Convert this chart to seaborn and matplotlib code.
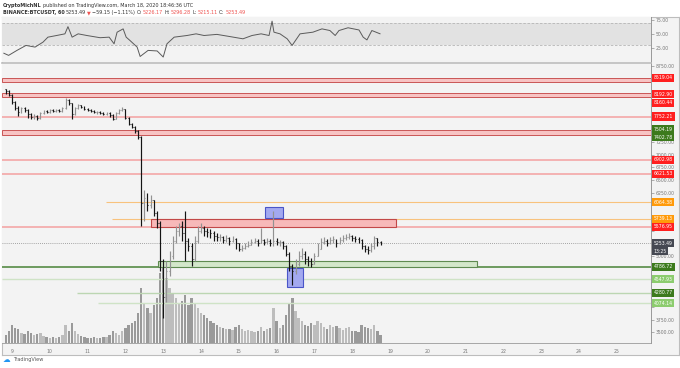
import numpy as np
import pandas as pd
import seaborn as sns
import matplotlib.pyplot as plt
import matplotlib.transforms as mtransforms
from matplotlib.patches import Rectangle

# ---- 2-hour bars, BINANCE:BTCUSDT, Mar 8 20:00 -> Mar 18 18:00 ----
close = [8257, 8178, 8040, 7922, 7843, 7922, 7882, 7803, 7744, 7764,
         7724, 7823, 7863, 7843, 7882, 7863, 7882, 7863, 7922, 8080,
         8020, 7803, 7922, 7981, 7942, 7902, 7882, 7863, 7843, 7843,
         7823, 7803, 7823, 7784, 7705, 7823, 7882, 7902, 7724, 7606,
         7547, 7468, 7350,
         6050, 6150, 6000, 6100, 5850, 5650, 4900, 4200, 4700, 5000,
         5300, 5500, 5600, 5450, 5300, 5200, 4950, 5300, 5500, 5550,
         5500, 5480, 5450, 5400, 5380, 5380, 5320, 5350, 5300, 5330,
         5250, 5150, 5170, 5200, 5230, 5280, 5300, 5260, 5320, 5280,
         5300, 5250, 5300, 5270, 5280, 5200, 5050, 4800, 4700, 4850,
         5000, 5050, 4950, 4900, 4850, 5000, 5150, 5280, 5300, 5250,
         5320, 5330, 5250, 5320, 5350, 5380, 5400, 5360, 5340, 5320,
         5200, 5150, 5120, 5200, 5350, 5280, 5253.49]
high = [8300, 8270, 8190, 8060, 7960, 7950, 7940, 7900, 7830, 7800,
        7790, 7850, 7890, 7880, 7900, 7900, 7910, 7900, 7950, 8110,
        8090, 8030, 7950, 8000, 7990, 7960, 7920, 7900, 7880, 7870,
        7860, 7840, 7850, 7840, 7800, 7840, 7900, 7950, 7910, 7740,
        7630, 7560, 7480,
        7360, 6300, 6250, 6200, 6100, 5900, 5700, 4950, 4900, 5100,
        5400, 5600, 5650, 5700, 5900, 5350, 5250, 5400, 5600, 5650,
        5600, 5550, 5530, 5500, 5450, 5440, 5400, 5420, 5380, 5400,
        5350, 5260, 5230, 5260, 5300, 5330, 5360, 5330, 5560, 5340,
        5360, 5330, 5900, 5350, 5320, 5300, 5220, 5080, 4850, 4950,
        5100, 5160, 5100, 5000, 4960, 5060, 5250, 5350, 5380, 5330,
        5380, 5400, 5340, 5380, 5420, 5440, 5460, 5420, 5400, 5380,
        5340, 5230, 5200, 5260, 5400, 5360, 5296.28]
low = [8200, 8150, 8010, 7880, 7760, 7820, 7850, 7720, 7700, 7710,
       7680, 7710, 7810, 7820, 7830, 7840, 7850, 7840, 7850, 7910,
       7990, 7700, 7790, 7900, 7920, 7880, 7860, 7840, 7820, 7810,
       7800, 7780, 7790, 7750, 7680, 7700, 7810, 7870, 7700, 7580,
       7520, 7430, 7320,
       5600, 5700, 5900, 5950, 5800, 5550, 4700, 3782, 4100, 4600,
       4950, 5250, 5400, 5300, 4900, 5100, 4800, 4900, 5250, 5450,
       5400, 5380, 5350, 5300, 5300, 5300, 5250, 5280, 5230, 5270,
       5150, 5100, 5110, 5150, 5180, 5220, 5250, 5200, 5260, 5230,
       5240, 5200, 5200, 5220, 5200, 5150, 5000, 4700, 4440, 4650,
       4800, 4950, 4850, 4800, 4780, 4850, 5000, 5150, 5240, 5200,
       5240, 5260, 5180, 5240, 5280, 5320, 5340, 5300, 5280, 5260,
       5150, 5080, 5050, 5080, 5150, 5200, 5215.11]
volume = [8000, 12000, 18000, 15000, 14000, 10000, 9000, 12000, 10000, 8000,
          9000, 10000, 7000, 6000, 5000, 6000, 5000, 6000, 8000, 18000,
          12000, 20000, 12000, 9000, 7000, 6000, 5000, 5000, 6000, 5000,
          5000, 6000, 6000, 8000, 12000, 10000, 8000, 12000, 15000, 18000,
          20000, 22000, 30000,
          55000, 40000, 35000, 30000, 38000, 45000, 70000, 80000, 65000, 55000,
          50000, 45000, 40000, 42000, 48000, 38000, 45000, 40000, 35000, 30000,
          28000, 25000, 22000, 20000, 18000, 16000, 15000, 14000, 14000, 13000,
          16000, 18000, 14000, 12000, 13000, 12000, 11000, 12000, 16000, 12000,
          14000, 15000, 35000, 22000, 15000, 18000, 28000, 40000, 45000, 32000,
          25000, 22000, 18000, 17000, 20000, 18000, 22000, 20000, 16000, 14000,
          18000, 16000, 17000, 15000, 13000, 15000, 16000, 12000, 12000, 11000,
          18000, 16000, 15000, 14000, 18000, 12000, 8000]
first_open = 8290

# RSI(14) (time in days of March)
rsi_day = [8.78, 8.91, 9.13, 9.37, 9.61, 9.82, 9.95, 10.18, 10.40, 10.48,
           10.59, 10.75, 10.98, 11.33, 11.57, 11.70, 11.78, 11.94, 12.02, 12.12,
           12.31, 12.39, 12.60, 12.84, 13.00, 13.10, 13.29, 13.63, 13.87, 14.08,
           14.42, 14.77, 15.11, 15.35, 15.59, 15.80, 15.88, 15.93, 16.09, 16.28,
           16.41, 16.62, 16.96, 17.20, 17.41, 17.55, 17.65, 17.89, 18.18, 18.29,
           18.39, 18.52, 18.63, 18.74]
rsi_val = [15, 11, 20, 29, 26, 35, 44, 47, 50, 63,
           44, 50, 47, 43, 44, 32, 53, 59, 44, 38,
           26, 9, 20, 19, 8, 32, 44, 47, 50, 47,
           49, 45, 41, 47, 50, 47, 73, 53, 50, 41,
           29, 50, 53, 59, 56, 47, 56, 61, 57, 44,
           39, 56, 53, 50]

# drawn levels
zone_lo = [8440, 8145, 7395]
zone_hi = [8519.04, 8225, 7485]
red_lines = [7752.21, 6902.98, 6621.53, 5576.95]
orange_lines = [6064.38, 5739.13]
orange_from = [11.49, 11.65]
green_lines = [4786.72, 4547.93, 4280.77, 4074.14]
green_from = [8.735, 8.735, 10.72, 11.275]
last_price = 5253.49

# rectangles: (day0, day1, price0, price1)
red_box = (12.68, 19.16, 5576.95, 5739.13)
green_box = (12.86, 21.30, 4786.72, 4905)
blue_boxes = [(15.69, 16.17, 5753, 5969), (16.28, 16.70, 4392, 4767)]

# price scale tags
tag_text = ["8519.04", "8192.90", "8160.44", "7752.21", "7504.19", "7402.78",
            "6902.98", "6621.53", "6064.38", "5739.13", "5576.95", "5253.49",
            "13:25", "4786.72", "4547.93", "4280.77", "4074.14"]
tag_price = [8519.04, 8192.90, 8025, 7752.21, 7504.19, 7345,
             6902.98, 6621.53, 6064.38, 5739.13, 5576.95, 5253.49,
             5095, 4786.72, 4547.93, 4280.77, 4074.14]
RED, DGREEN, LGREEN, ORANGE, DARK = "#ff1f1f", "#3c7a1c", "#8ccc6e", "#ff9a0a", "#454852"
tag_color = [RED, RED, RED, RED, DGREEN, DGREEN, RED, RED, ORANGE, ORANGE, RED,
             DARK, DARK, DGREEN, LGREEN, DGREEN, LGREEN]

price_ticks = list(range(3500, 8751, 250))
day_ticks = list(range(9, 26))

# ---------------------------------------------------------------
sns.set_style("white")
plt.rcParams["font.family"] = ["DejaVu Sans"]

W, H = 680, 368
fig = plt.figure(figsize=(W / 100, H / 100), dpi=100)
BG = "#f3f3f3"


def fx(px):
    return px / W


def fy(py):
    return 1 - py / H


# panel background and frame (behind the axes)
frame_ax = fig.add_axes([fx(2), fy(355), fx(677), 338 / H], zorder=-5)
frame_ax.set_facecolor(BG)
frame_ax.set_xticks([])
frame_ax.set_yticks([])
for s in frame_ax.spines.values():
    s.set_color("#bdbdbd")
    s.set_linewidth(0.8)

ax_rsi = fig.add_axes([fx(2), fy(62), fx(649), 45 / H])
ax = fig.add_axes([fx(2), fy(343), fx(649), 280 / H])
xmin, xmax = 8.735, 25.905

# ---------- RSI pane ----------
ax_rsi.set_facecolor(BG)
ax_rsi.axhspan(30, 70, color="#e2e2e2", lw=0, zorder=0)
for lvl in (30, 70):
    ax_rsi.axhline(lvl, color="#b5b5b5", lw=0.6, ls=(0, (3, 2)), zorder=1)
rsi_df = pd.DataFrame({"day": rsi_day, "rsi": rsi_val})
sns.lineplot(data=rsi_df, x="day", y="rsi", ax=ax_rsi, color="#5a5a5a", lw=0.7, zorder=3)
ax_rsi.set_xlim(xmin, xmax)
ax_rsi.set_ylim(-1, 80.5)
ax_rsi.set_xticks([])
ax_rsi.set_xlabel("")
ax_rsi.set_ylabel("")
ax_rsi.yaxis.tick_right()
ax_rsi.set_yticks([25, 50, 75])
ax_rsi.set_yticklabels(["25.00", "50.00", "75.00"])
ax_rsi.tick_params(axis="y", length=2, pad=1.5, labelsize=3.3, colors="#777777", width=0.4)
for s in ("top", "left", "bottom"):
    ax_rsi.spines[s].set_visible(False)
ax_rsi.spines["right"].set_color("#8a8a8a")
ax_rsi.spines["right"].set_linewidth(0.6)

# ---------- main pane ----------
ax.set_facecolor(BG)
n = len(close)
bar_x = 8 + 20 / 24 + np.arange(n) * 2 / 24
opens = np.r_[first_open, close[:-1]]
close_a = np.array(close)
up = close_a >= opens

# volume overlay at the bottom
vol_frac = np.array(volume) / 280000
ax.bar(bar_x, vol_frac, width=1.5 / 24, bottom=0,
       color=np.where(up, "#bdbdbd", "#9a9a9a"),
       transform=ax.get_xaxis_transform(), zorder=1, lw=0)

# zones and levels
for lo, hi in zip(zone_lo, zone_hi):
    ax.axhspan(lo, hi, facecolor="#f7c3c3", edgecolor="#c95555", lw=0.7, zorder=2)
for p in red_lines:
    ax.axhline(p, color="#f3a0a0", lw=1.1, zorder=2)
for p, d in zip(orange_lines, orange_from):
    ax.hlines(p, d, xmax, color="#f8c27d", lw=0.8, zorder=2)
for p, d, c, w in zip(green_lines, green_from,
                      ["#6d9a5e", "#cfe3c6", "#bcd6b2", "#cfe3c6"], [1.4, 1.0, 1.0, 1.0]):
    ax.hlines(p, d, xmax, color=c, lw=w, zorder=2)

d0, d1, p0, p1 = red_box
ax.add_patch(Rectangle((d0, p0), d1 - d0, p1 - p0, facecolor="#f7b9b9",
                       edgecolor="#c24848", lw=0.8, zorder=2.5))
d0, d1, p0, p1 = green_box
ax.add_patch(Rectangle((d0, p0), d1 - d0, p1 - p0, facecolor="#d3e7ca",
                       edgecolor="#5e8a50", lw=0.8, zorder=2.5))
for d0, d1, p0, p1 in blue_boxes:
    ax.add_patch(Rectangle((d0, p0), d1 - d0, p1 - p0, facecolor="#a3a9f0",
                           edgecolor="#4a55c8", lw=0.8, zorder=4))

ax.axhline(last_price, color="#8a8a8a", lw=0.6, ls=(0, (1, 1.5)), zorder=2)

# OHLC bars
cols = np.where(up, "#929292", "#141414")
tick = 0.6 / 24
ax.vlines(bar_x, low, high, colors=cols, lw=0.85, zorder=5)
ax.hlines(opens, bar_x - tick, bar_x, colors=cols, lw=0.75, zorder=5)
ax.hlines(close_a, bar_x, bar_x + tick, colors=cols, lw=0.75, zorder=5)

ax.set_xlim(xmin, xmax)
ax.set_ylim(3288, 8809)
ax.yaxis.tick_right()
ax.set_yticks(price_ticks)
# scale values hidden behind a tag are left blank
ax.set_yticklabels(["" if min(abs(v - p) for p in tag_price) < 90 else f"{v:.2f}"
                    for v in price_ticks])
ax.set_xticks(day_ticks)
ax.set_xticklabels([str(d) for d in day_ticks])
ax.tick_params(axis="y", length=2, pad=1.5, labelsize=3.3, colors="#777777", width=0.4)
ax.tick_params(axis="x", length=2, pad=2.5, labelsize=3.3, colors="#777777", width=0.4)
ax.spines["left"].set_visible(False)
ax.spines["right"].set_color("#8a8a8a")
ax.spines["right"].set_linewidth(0.6)
ax.spines["bottom"].set_color("#9a9a9a")
ax.spines["bottom"].set_linewidth(0.6)
ax.spines["top"].set_color("#bdbdbd")
ax.spines["top"].set_linewidth(1.2)

# price scale tags
trans = mtransforms.blended_transform_factory(ax.transAxes, ax.transData)
for t, p, c in zip(tag_text, tag_price, tag_color):
    ax.text(1.004, p, t, transform=trans, fontsize=3.3, color="white", va="center",
            ha="left", clip_on=False, zorder=10,
            bbox=dict(boxstyle="square,pad=0.35", fc=c, ec="none"))

# ---------- header ----------
renderer = fig.canvas.get_renderer()


def runs(x_px, y_px, parts):
    x = x_px
    for txt, col, bold in parts:
        t = fig.text(fx(x), fy(y_px), txt, color=col, fontsize=3.5, va="center", ha="left",
                     fontweight="bold" if bold else "normal")
        x += t.get_window_extent(renderer=renderer).width + 1.2


TXT, RD = "#333333", "#ef5350"
runs(3, 5, [("CryptoMichNL", TXT, True),
            ("published on TradingView.com, March 18, 2020 18:46:36 UTC", TXT, False)])
runs(3, 12.5, [("BINANCE:BTCUSDT, 60", TXT, True), ("5253.49", TXT, False), ("\u25bc", RD, False),
               ("\u221259.15 (\u22121.11%)", TXT, False), ("O:", TXT, False), ("5226.17", RD, False),
               ("H:", TXT, False), ("5296.28", RD, False), ("L:", TXT, False), ("5215.11", RD, False),
               ("C:", TXT, False), ("5253.49", RD, False)])

# footer logo
fig.text(fx(3), fy(360), "\u2601", color="#2196f3", fontsize=5.5, va="center", ha="left")
fig.text(fx(13), fy(360), "TradingView", color="#555555", fontsize=3.6, va="center", ha="left")

fig.savefig("out.png", dpi=100, facecolor="white")
